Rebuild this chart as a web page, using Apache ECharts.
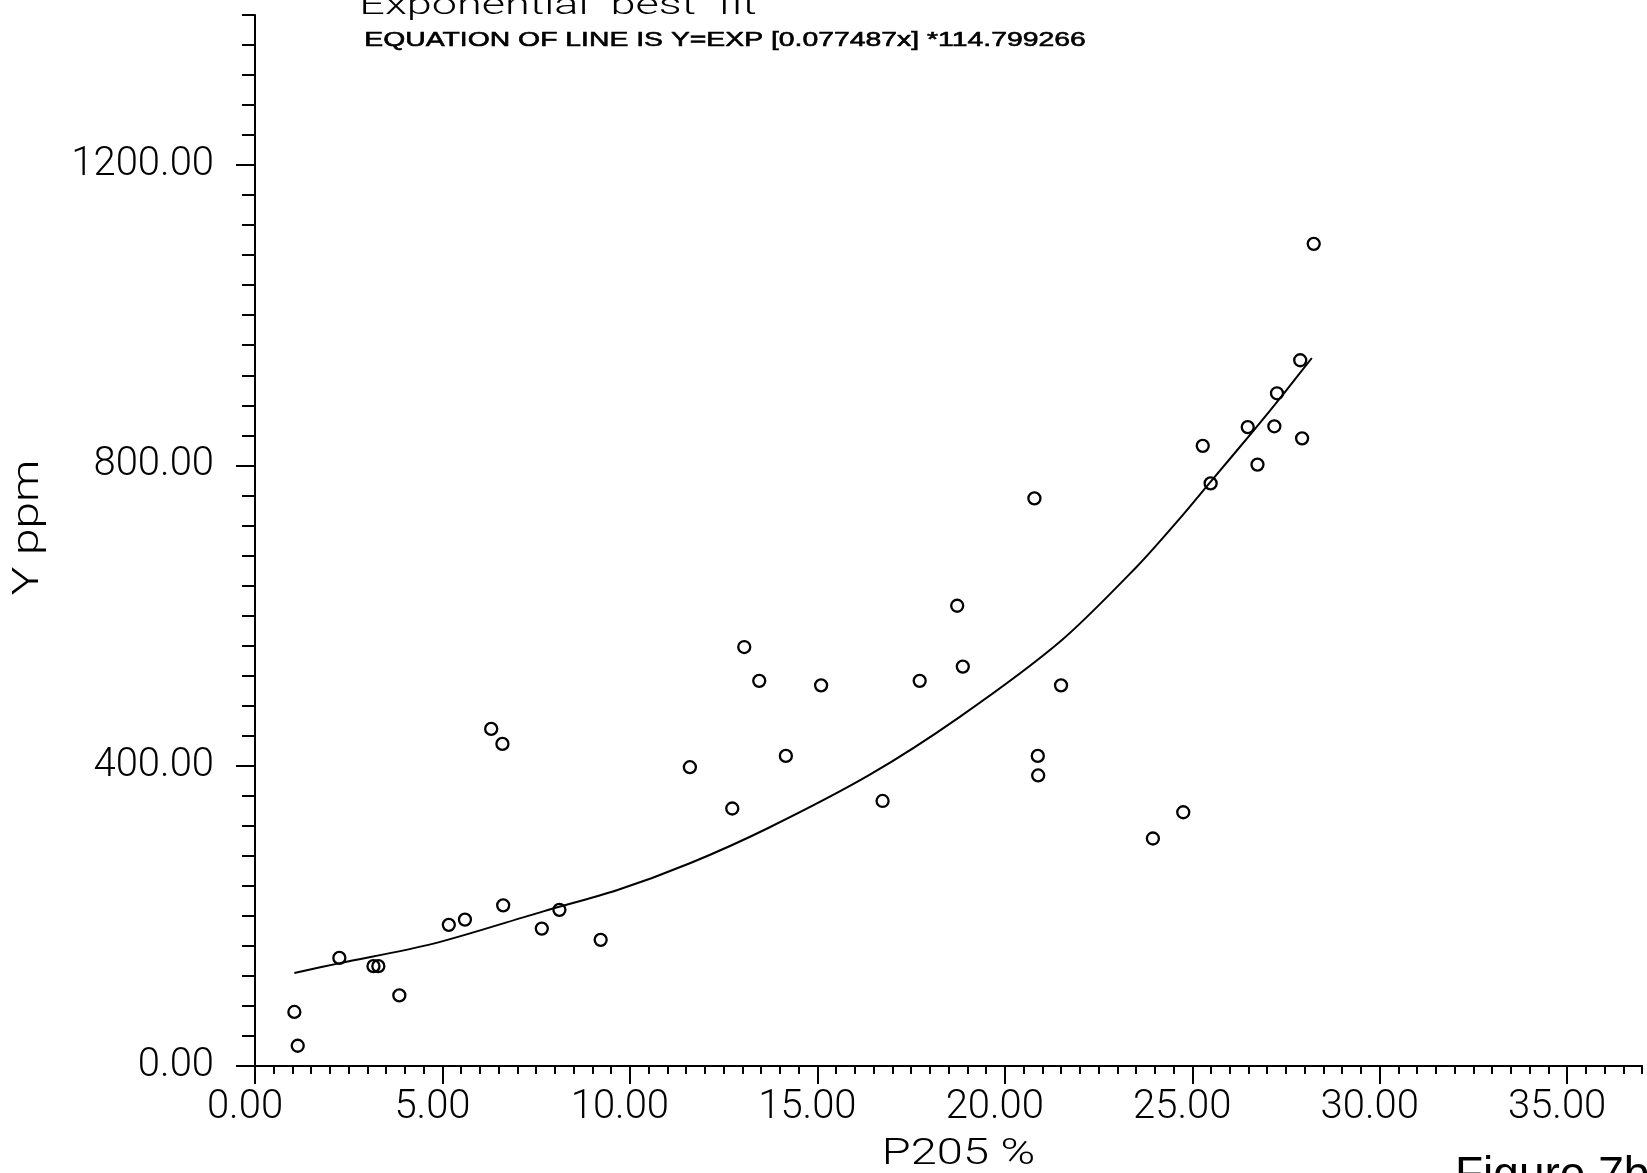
<!DOCTYPE html>
<html>
<head>
<meta charset="utf-8">
<title>Exponential best fit</title>
<script src="https://cdn.jsdelivr.net/npm/echarts@6.0.0/dist/echarts.min.js"></script>
<style>
    html, body {
        margin: 0;
        padding: 0;
        background: #fff;
    }

    #main {
        width: 1647px;
        height: 1173px;
    }
</style>
</head>
<body>
<div id="main"></div>
<script>
// P2O5 % vs Y ppm
var samplesX = [1.05, 1.14, 2.25, 3.16, 3.29, 3.85, 5.17, 5.60, 6.30, 6.60,
    6.62, 7.65, 8.12, 9.22, 11.60, 12.73, 13.05, 13.45, 14.16, 15.10,
    16.74, 17.73, 18.73, 18.88, 20.79, 20.88, 20.89, 21.50, 23.95, 24.76,
    25.28, 25.49, 26.48, 26.74, 27.19, 27.26, 27.88, 27.93, 28.24];
var samplesY = [72, 27, 144, 133, 133, 94, 188, 195, 449, 429,
    214, 183, 208, 168, 398, 343, 558, 513, 413, 507,
    353, 513, 613, 532, 756, 413, 387, 507, 303, 338,
    826, 776, 851, 801, 852, 896, 940, 836, 1095];

// fitted curve as drawn on the plot
var fitX = [1.05, 2.27, 4.76, 7.69, 9.65, 11.60, 13.69, 16.40, 18.80, 21.47,
    23.52, 24.63, 25.47, 26.63, 27.43, 28.19];
var fitY = [124, 137, 163, 206, 234, 270, 317, 388, 465, 565,
    665, 727, 777, 846, 895, 943];

var xLabelTicks = [0, 5, 10, 15, 20, 25, 30, 35];
var yLabelTicks = [0, 400, 800, 1200];

var titleText = 'Exponential  best  fit';
var equationText = 'EQUATION OF LINE IS Y=EXP [0.077487x] *114.799266';

var myChart = echarts.init(document.getElementById('main'));

// pixel layout of the scan: x=0 at 255px, 37.49px per unit; y=0 at 1066px, 0.7508px per unit
var x0 = 255, kx = 37.49, y0 = 1066, ky = 0.7508;
var W = 1647, H = 1173;

var labelFont = {
    color: '#000',
    fontFamily: 'Roboto',
    fontWeight: 300,
    fontSize: 40
};

var option = {
    backgroundColor: '#fff',
    animation: false,
    grid: [
        // minor ticks, full extent
        { left: x0, right: W - (x0 + 37 * kx), top: y0 - 1400 * ky, bottom: H - y0 },
        // major ticks and labels
        { left: x0, right: W - (x0 + 35 * kx), top: y0 - 1200 * ky, bottom: H - y0 }
    ],
    xAxis: [
        {
            gridIndex: 0,
            type: 'value',
            min: 0,
            max: 37,
            interval: 0.5,
            axisLine: { show: true, onZero: false, lineStyle: { color: '#000', width: 2 } },
            axisTick: { show: true, length: 8, lineStyle: { color: '#000', width: 2 } },
            axisLabel: { show: false },
            splitLine: { show: false }
        },
        {
            gridIndex: 1,
            type: 'value',
            min: 0,
            max: 35,
            interval: 5,
            axisLine: { show: false, onZero: false },
            axisTick: { show: true, length: 18, lineStyle: { color: '#000', width: 2 } },
            axisLabel: Object.assign({
                margin: 22,
                padding: [0, 20, 0, 0],
                formatter: function (v) { return xLabelTicks.indexOf(v) >= 0 ? v.toFixed(2) : ''; }
            }, labelFont),
            splitLine: { show: false }
        }
    ],
    yAxis: [
        {
            gridIndex: 0,
            type: 'value',
            min: 0,
            max: 1400,
            interval: 40,
            axisLine: { show: true, onZero: false, lineStyle: { color: '#000', width: 2 } },
            axisTick: { show: true, length: 13, lineStyle: { color: '#000', width: 2 } },
            axisLabel: { show: false },
            splitLine: { show: false }
        },
        {
            gridIndex: 1,
            type: 'value',
            min: 0,
            max: 1200,
            interval: 400,
            axisLine: { show: false, onZero: false },
            axisTick: { show: true, length: 19, lineStyle: { color: '#000', width: 2 } },
            axisLabel: Object.assign({
                margin: 41,
                formatter: function (v) { return yLabelTicks.indexOf(v) >= 0 ? v.toFixed(2) : ''; }
            }, labelFont),
            splitLine: { show: false }
        }
    ],
    series: [
        {
            name: 'fit',
            type: 'line',
            xAxisIndex: 0,
            yAxisIndex: 0,
            data: fitX.map(function (x, i) { return [x, fitY[i]]; }),
            smooth: 0.3,
            showSymbol: false,
            lineStyle: { color: '#000', width: 2 },
            z: 2
        },
        {
            name: 'samples',
            type: 'scatter',
            xAxisIndex: 0,
            yAxisIndex: 0,
            data: samplesX.map(function (x, i) { return [x, samplesY[i]]; }),
            symbol: 'circle',
            symbolSize: 12,
            itemStyle: { color: 'rgba(0,0,0,0)', borderColor: '#000', borderWidth: 2.3, opacity: 1 },
            z: 3
        }
    ],
    graphic: [
        {
            type: 'text',
            x: 558, y: 6.5, scaleX: 1.5,
            style: {
                text: titleText, fill: '#000', font: '300 30px Roboto',
                textAlign: 'center', align: 'center', textVerticalAlign: 'middle', verticalAlign: 'middle'
            }
        },
        {
            type: 'text',
            x: 725, y: 40.6, scaleX: 1.35,
            style: {
                text: equationText, fill: '#000', stroke: '#000', lineWidth: 0.6,
                font: '21px "Liberation Sans"',
                textAlign: 'center', align: 'center', textVerticalAlign: 'middle', verticalAlign: 'middle'
            }
        },
        {
            type: 'text',
            x: 29, y: 527.5, rotation: Math.PI / 2, scaleX: 1.29,
            style: {
                text: 'Y ppm', fill: '#000', font: '300 37px Roboto',
                textAlign: 'center', align: 'center', textVerticalAlign: 'middle', verticalAlign: 'middle'
            }
        },
        {
            type: 'text',
            x: 958.5, y: 1154.5, scaleX: 1.27,
            style: {
                text: 'P205 %', fill: '#000', font: '300 37px Roboto',
                textAlign: 'center', align: 'center', textVerticalAlign: 'middle', verticalAlign: 'middle'
            }
        },
        {
            type: 'text',
            x: 1455, y: 1176,
            style: {
                text: 'Figure 7b', fill: '#000', font: '46px "Liberation Sans"',
                textAlign: 'left', align: 'left', textVerticalAlign: 'middle', verticalAlign: 'middle'
            }
        }
    ]
};

option && myChart.setOption(option);
</script>
</body>
</html>
